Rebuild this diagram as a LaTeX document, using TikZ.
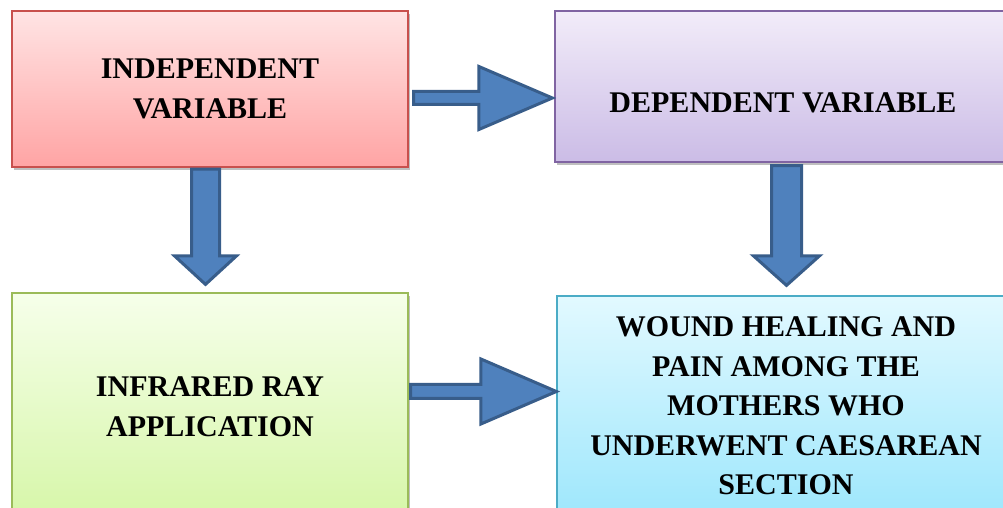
\documentclass[tikz,border=0pt]{standalone}
\usepackage{fontspec}
\setmainfont{Liberation Serif}
\usetikzlibrary{calc,shadows}
\definecolor{redtop}{RGB}{255,228,228}
\definecolor{redbot}{RGB}{255,164,164}
\definecolor{redline}{RGB}{200,80,77}
\definecolor{purtop}{RGB}{242,236,249}
\definecolor{purbot}{RGB}{203,188,230}
\definecolor{purline}{RGB}{128,100,162}
\definecolor{grntop}{RGB}{246,255,234}
\definecolor{grnbot}{RGB}{214,246,168}
\definecolor{grnline}{RGB}{155,187,89}
\definecolor{cyntop}{RGB}{226,249,255}
\definecolor{cynbot}{RGB}{158,231,252}
\definecolor{cynline}{RGB}{75,172,198}
\definecolor{arrowfill}{RGB}{79,129,189}
\definecolor{arrowline}{RGB}{56,93,138}
\begin{document}
\begin{tikzpicture}[x=1pt,y=1pt,
  box/.style={rectangle, draw, line width=1.2pt, inner sep=0pt,
    drop shadow={shadow xshift=2pt, shadow yshift=-3pt, opacity=0.25, fill=black}},
  txt/.style={font=\fontsize{30}{39.5}\selectfont\bfseries, align=center, text=black},
  barrow/.style={fill=arrowfill, draw=arrowline, line width=3pt, line join=miter}]
\useasboundingbox (0,0) rectangle (1003,508);
\clip (0,0) rectangle (1003,508);
\fill[white] (0,0) rectangle (1003,508);

% boxes
\node[box, draw=redline, top color=redtop, bottom color=redbot,
  minimum width=396, minimum height=156, txt] (A) at (210,419)
  {INDEPENDENT\\VARIABLE};
\node[box, draw=purline, top color=purtop, bottom color=purbot,
  minimum width=460, minimum height=151] (B) at (785,421.5) {};
\node[txt] (Bt) at ($(B.center)+(-2,-16.5)$) {DEPENDENT VARIABLE};
\node[box, draw=grnline, top color=grntop, bottom color=grnbot,
  minimum width=396, minimum height=227, txt] (C) at (210,101.5)
  {INFRARED RAY\\APPLICATION};
\node[box, draw=cynline, top color=cyntop, bottom color=cynbot,
  minimum width=458, minimum height=220, txt] (D) at (786,102)
  {WOUND HEALING AND\\PAIN AMONG THE\\MOTHERS WHO\\UNDERWENT CAESAREAN\\SECTION};

% A -> B
\coordinate (s1) at ($(A.east)+(5,-9)$);
\coordinate (t1) at ($(B.west |- s1)+(-2,0)$);
\draw[barrow] ($(s1)+(0,6.5)$) -- ($(t1)+(-73.5,6.5)$) -- ($(t1)+(-73.5,31.5)$)
  -- (t1) -- ($(t1)+(-73.5,-31.5)$) -- ($(t1)+(-73.5,-6.5)$) -- ($(s1)+(0,-6.5)$) -- cycle;

% C -> D
\coordinate (s2) at ($(C.east)+(2,15)$);
\coordinate (t2) at ($(D.west |- s2)+(0,0)$);
\draw[barrow] ($(s2)+(0,7)$) -- ($(t2)+(-75.5,7)$) -- ($(t2)+(-75.5,32.5)$)
  -- (t2) -- ($(t2)+(-75.5,-32.5)$) -- ($(t2)+(-75.5,-7)$) -- ($(s2)+(0,-7)$) -- cycle;

% A -> C
\coordinate (s3) at ($(A.south)+(-4.5,-1.5)$);
\coordinate (t3) at ($(C.north -| s3)+(0,8)$);
\draw[barrow] ($(s3)+(-14,0)$) -- ($(t3)+(-14,28.5)$) -- ($(t3)+(-31,28.5)$)
  -- (t3) -- ($(t3)+(31,28.5)$) -- ($(t3)+(14,28.5)$) -- ($(s3)+(14,0)$) -- cycle;

% B -> D
\coordinate (s4) at ($(B.south)+(1.5,-3)$);
\coordinate (t4) at ($(D.north -| s4)+(0,10)$);
\draw[barrow] ($(s4)+(-15,0)$) -- ($(t4)+(-15,29.5)$) -- ($(t4)+(-33,29.5)$)
  -- (t4) -- ($(t4)+(33,29.5)$) -- ($(t4)+(15,29.5)$) -- ($(s4)+(15,0)$) -- cycle;
\end{tikzpicture}
\end{document}
